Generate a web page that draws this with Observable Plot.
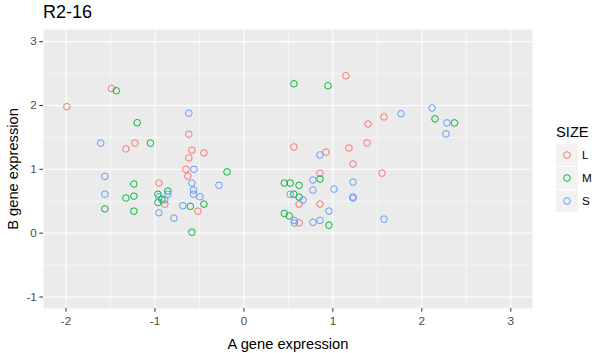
<!DOCTYPE html>
<html>
<head>
<meta charset="utf-8">
<script src="https://cdn.jsdelivr.net/npm/d3@7"></script>
<script src="https://cdn.jsdelivr.net/npm/@observablehq/plot@0.6"></script>
<style>
  html, body { margin: 0; padding: 0; background: #fff; }
  #wrap { position: relative; width: 599px; height: 353px; font-family: "Liberation Sans", Arial, sans-serif; }
  #title { position: absolute; left: 43px; top: 2px; font-size: 18px; color: #000; }
  #legend { position: absolute; left: 556px; top: 124px; font-size: 14.7px; color: #000; }
  .key { display: flex; align-items: center; height: 23px; }
  .key svg { background: #F2F2F2; display: block; }
  .key span { font-size: 11.7px; margin-left: 4px; }
</style>
</head>
<body>
<div id="wrap">
  <div id="title">R2-16</div>
  <div id="legend"></div>
</div>
<script>
const title = "R2-16";
const xLabel = "A gene expression";
const yLabel = "B gene expression";
const legendTitle = "SIZE";
const sizes = ["L", "M", "S"];
const sizeColors = ["#F8766D", "#00BA38", "#619CFF"];
const xTicks = [-2, -1, 0, 1, 2, 3];
const yTicks = [-1, 0, 1, 2, 3];
const xMinor = [-1.5, -0.5, 0.5, 1.5, 2.5];
const yMinor = [-0.5, 0.5, 1.5, 2.5];

const L_x = [-1.99, -1.488, -1.226, -1.327, -0.619, -0.585, -0.45, -0.619, -0.652, -0.63, -0.956, -0.889, -0.517,
             1.147, 0.562, 0.922, 1.181, 1.226, 0.855, 0.62, 0.855, 0.62, 1.575, 1.395, 1.384, 1.552];
const L_y = [1.98, 2.265, 1.41, 1.32, 1.55, 1.30, 1.256, 1.18, 1.00, 0.895, 0.785, 0.455, 0.345,
             2.465, 1.35, 1.27, 1.334, 1.083, 0.94, 0.455, 0.455, 0.16, 1.82, 1.71, 1.413, 0.94];

const M_x = [-1.435, -1.20, -1.05, -1.237, -1.237, -1.327, -1.563, -1.237, -0.19, -0.855, -0.967, -0.922, -0.967, -0.603, -0.45, -0.585,
             0.562, 0.945, 0.855, 0.454, 0.52, 0.62, 0.562, 0.62, 0.454, 0.51, 0.956, 2.148, 2.367];
const M_y = [2.23, 1.73, 1.41, 0.77, 0.58, 0.55, 0.38, 0.345, 0.96, 0.66, 0.61, 0.53, 0.48, 0.42, 0.455, 0.015,
             2.34, 2.31, 0.848, 0.785, 0.785, 0.75, 0.61, 0.565, 0.31, 0.27, 0.125, 1.79, 1.727];

const S_x = [-1.61, -1.563, -1.563, -0.619, -0.562, -0.585, -0.281, -0.566, -0.566, -0.855, -0.495, -0.956, -0.89, -0.686, -0.956, -0.787,
             0.855, 0.776, 1.226, 0.776, 1.012, 0.52, 0.664, 1.226, 1.226, 0.956, 0.567, 0.567, 0.776, 0.855, 2.115, 1.766, 2.283, 2.272, 1.575];
const S_y = [1.41, 0.89, 0.61, 1.88, 1.00, 0.785, 0.75, 0.675, 0.61, 0.61, 0.57, 0.57, 0.52, 0.43, 0.32, 0.235,
             1.225, 0.832, 0.80, 0.675, 0.69, 0.61, 0.52, 0.565, 0.55, 0.345, 0.2, 0.16, 0.17, 0.2, 1.96, 1.87, 1.727, 1.554, 0.22];

const data = [
  ...L_x.map((x, i) => ({x, y: L_y[i], size: "L"})),
  ...M_x.map((x, i) => ({x, y: M_y[i], size: "M"})),
  ...S_x.map((x, i) => ({x, y: S_y[i], size: "S"}))
];

const fmt = d => String(d);

const plot = Plot.plot({
  width: 599,
  height: 353,
  marginLeft: 43,
  marginRight: 67,
  marginTop: 29,
  marginBottom: 45,
  style: {fontFamily: "Liberation Sans, Arial, sans-serif", background: "transparent", overflow: "visible"},
  x: {domain: [-2.253, 3.244]},
  y: {domain: [-1.18, 3.19]},
  color: {domain: sizes, range: sizeColors},
  marks: [
    Plot.frame({fill: "#EBEBEB", stroke: "none"}),
    Plot.ruleX(xMinor, {stroke: "#fff", strokeWidth: 0.55}),
    Plot.ruleY(yMinor, {stroke: "#fff", strokeWidth: 0.55}),
    Plot.ruleX(xTicks, {stroke: "#fff", strokeWidth: 1.1}),
    Plot.ruleY(yTicks, {stroke: "#fff", strokeWidth: 1.1}),
    Plot.axisX(xTicks, {tickSize: 3.7, tickPadding: 4, stroke: "#333", fill: "#4D4D4D", fontSize: 11.7, tickFormat: fmt,
      label: xLabel, labelAnchor: "center", labelArrow: "none", labelOffset: 40}),
    Plot.axisY(yTicks, {tickSize: 3.7, tickPadding: 3, stroke: "#333", fill: "#4D4D4D", fontSize: 11.7, tickFormat: fmt,
      label: yLabel, labelAnchor: "center", labelArrow: "none", labelOffset: 36}),
    Plot.dot(data, {x: "x", y: "y", stroke: "size", r: 3.3, strokeWidth: 1, fill: "none"})
  ]
});

plot.querySelectorAll("g[aria-label='x-axis label'] text, g[aria-label='y-axis label'] text").forEach(t => {
  t.setAttribute("font-size", "14.7");
  t.setAttribute("fill", "#000");
});

document.getElementById("wrap").appendChild(plot);
plot.style.position = "absolute";
plot.style.left = "0";
plot.style.top = "0";
document.getElementById("title").textContent = title;
document.getElementById("title").style.zIndex = 2;

const color = plot.scale("color");
const leg = document.getElementById("legend");
leg.style.zIndex = 2;
const lt = document.createElement("div");
lt.textContent = legendTitle;
lt.style.marginBottom = "3px";
leg.appendChild(lt);
color.domain.forEach((d, i) => {
  const row = document.createElement("div");
  row.className = "key";
  const ns = "http://www.w3.org/2000/svg";
  const s = document.createElementNS(ns, "svg");
  s.setAttribute("width", 22); s.setAttribute("height", 22);
  const c = document.createElementNS(ns, "circle");
  c.setAttribute("cx", 11); c.setAttribute("cy", 11); c.setAttribute("r", 3.3);
  c.setAttribute("fill", "none"); c.setAttribute("stroke", color.range[i]); c.setAttribute("stroke-width", 1);
  s.appendChild(c);
  row.appendChild(s);
  const sp = document.createElement("span");
  sp.textContent = d;
  row.appendChild(sp);
  leg.appendChild(row);
});
</script>
</body>
</html>
